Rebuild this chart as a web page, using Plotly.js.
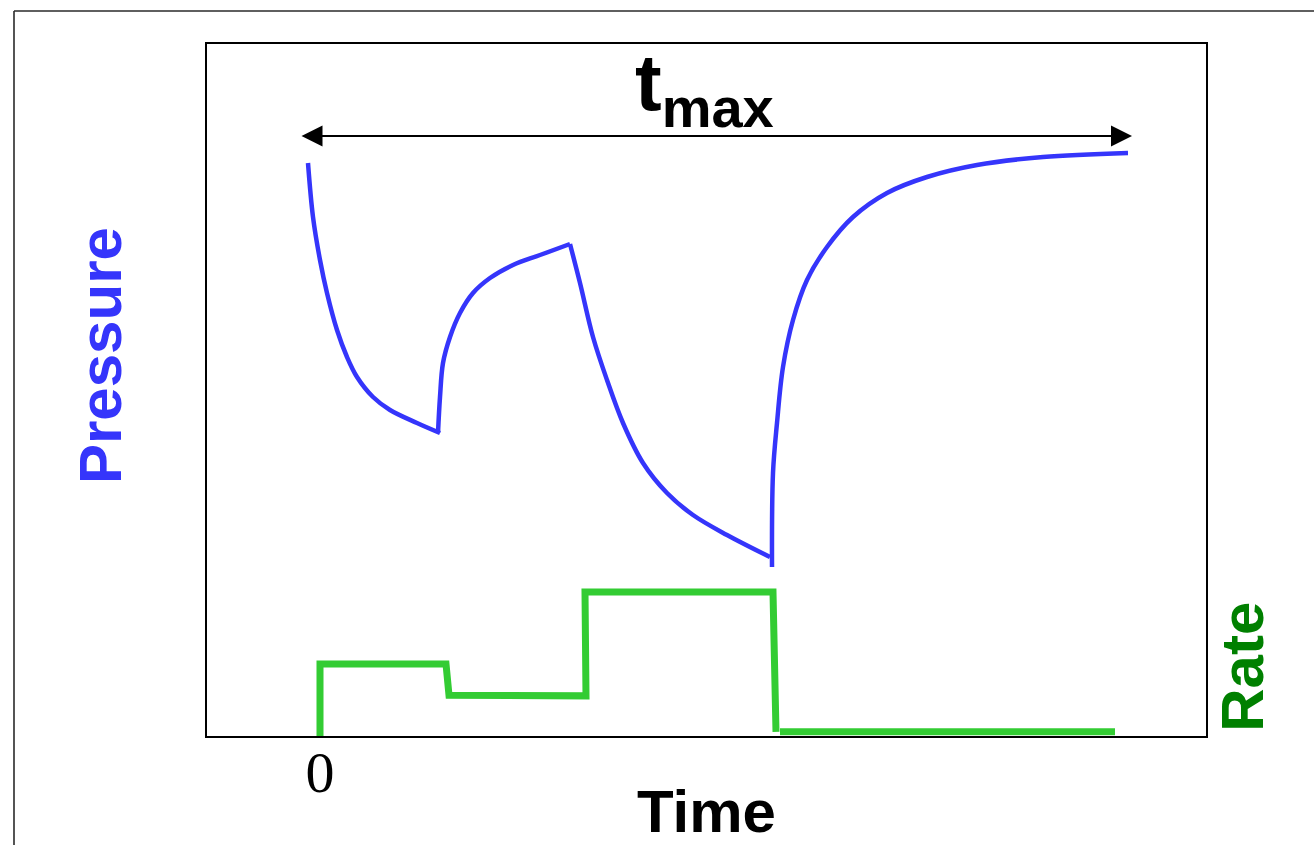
<!DOCTYPE html>
<html>
<head>
<meta charset="utf-8">
<script src="https://cdn.plot.ly/plotly-3.0.1.min.js"></script>
<style>
  html, body { margin: 0; padding: 0; background: #ffffff; }
  #chart { width: 1314px; height: 845px; }
</style>
</head>
<body>
<div id="chart"></div>
<script>
// Pressure response (time units, pressure units)
const pressureTime = [
  -0.12, -0.07, 0.00, 0.07, 0.17, 0.27, 0.37, 0.53, 0.70, 0.97, 1.20,
  1.18, 1.20, 1.23, 1.30, 1.40, 1.53, 1.70, 1.93, 2.20, 2.50,
  2.60, 2.73, 2.87, 3.03, 3.23, 3.47, 3.73, 4.07, 4.50,
  4.52, 4.53, 4.57, 4.63, 4.73, 4.87, 5.07, 5.33, 5.67, 6.07, 6.57, 7.23, 8.08
];
const pressureValue = [
  5.73, 5.19, 4.76, 4.43, 4.06, 3.79, 3.59, 3.39, 3.26, 3.13, 3.03,
  3.03, 3.39, 3.73, 3.99, 4.23, 4.43, 4.58, 4.71, 4.81, 4.92,
  4.53, 3.99, 3.56, 3.13, 2.73, 2.43, 2.21, 2.01, 1.79,
  1.69, 2.63, 3.13, 3.69, 4.16, 4.56, 4.89, 5.19, 5.43, 5.59, 5.71, 5.79, 5.83
];
// Each flow period: [first index, last index] in the pressure arrays
const pressurePeriods = [[0, 10], [11, 20], [20, 29], [30, 42]];

// Rate history (step schedule)
const rateTime  = [0, 0, 1.26, 1.29, 2.66, 2.65, 4.53, 4.56, null, 4.60, 7.95];
const rateValue = [0, 1.04, 1.04, 0.59, 0.58, 2.08, 2.08, 0.06, null, 0.06, 0.06];

// Labels
const xTickVals = [0];
const xTickText = ['0'];
const tmaxStart = -0.20;
const tmaxEnd = 8.12;
const tmaxLevel = 6.00;

const traces = pressurePeriods.map(([a, b]) => ({
  x: pressureTime.slice(a, b + 1), y: pressureValue.slice(a, b + 1),
  type: 'scatter', mode: 'lines',
  line: { color: '#3535fb', width: 4.5, shape: 'spline', smoothing: 1 },
  yaxis: 'y', hoverinfo: 'skip', name: 'Pressure'
}));
traces.push({
  x: rateTime, y: rateValue, type: 'scatter', mode: 'lines', connectgaps: false,
  line: { color: '#33cc33', width: 7 }, yaxis: 'y2', hoverinfo: 'skip', name: 'Rate'
});

const layout = {
  width: 1314, height: 845,
  margin: { l: 207, r: 108, t: 44, b: 109, pad: 0 },
  paper_bgcolor: '#ffffff', plot_bgcolor: '#ffffff',
  showlegend: false,
  xaxis: {
    range: [-1.13, 8.86], showgrid: false, zeroline: false,
    showline: true, linecolor: '#000000', linewidth: 2, mirror: true,
    ticks: '', tickvals: xTickVals, ticktext: xTickText,
    tickfont: { family: 'Liberation Serif, Times New Roman, serif', size: 58, color: '#000000' },
    ticklabelstandoff: -16,
    title: { text: '<b>Time</b>', standoff: 26,
      font: { family: 'Liberation Sans, Arial, sans-serif', size: 60, color: '#000000' } }
  },
  yaxis: {
    range: [0, 6.92], showgrid: false, zeroline: false,
    showline: true, linecolor: '#000000', linewidth: 2, mirror: true,
    ticks: '', showticklabels: false
  },
  yaxis2: {
    range: [0, 10], overlaying: 'y', side: 'right',
    showgrid: false, zeroline: false, showline: false,
    ticks: '', showticklabels: false
  },
  annotations: [
    {
      x: tmaxEnd, y: tmaxLevel, ax: tmaxStart, ay: tmaxLevel,
      xref: 'x', yref: 'y', axref: 'x', ayref: 'y',
      text: '', showarrow: true, arrowside: 'end+start',
      arrowhead: 2, startarrowhead: 2, arrowsize: 2.1, startarrowsize: 2.1,
      arrowwidth: 2, arrowcolor: '#000000', standoff: 0, startstandoff: 0
    },
    {
      x: 3.84, y: 6.48, xref: 'x', yref: 'y', showarrow: false,
      text: '<b>t<sub>max</sub></b>',
      font: { family: 'Liberation Sans, Arial, sans-serif', size: 80, color: '#000000' },
      xanchor: 'center', yanchor: 'middle'
    },
    {
      x: (100 - 207) / 999, y: (736 - 356) / 692, xref: 'paper', yref: 'paper', showarrow: false,
      text: '<b>Pressure</b>', textangle: -90,
      font: { family: 'Liberation Sans, Arial, sans-serif', size: 60, color: '#3535fb' },
      xanchor: 'center', yanchor: 'middle'
    },
    {
      x: 1.037, y: 0.10, xref: 'paper', yref: 'paper', showarrow: false,
      text: '<b>Rate</b>', textangle: -90,
      font: { family: 'Liberation Sans, Arial, sans-serif', size: 60, color: '#008000' },
      xanchor: 'center', yanchor: 'middle'
    }
  ],
  shapes: [
    { type: 'line', xref: 'paper', yref: 'paper',
      x0: (14 - 207) / 999, x1: 1.2, y0: 1 + (44 - 11) / 692, y1: 1 + (44 - 11) / 692,
      line: { color: '#2a2a2a', width: 1.6 } },
    { type: 'line', xref: 'paper', yref: 'paper',
      x0: (14 - 207) / 999, x1: (14 - 207) / 999, y0: 1 + (44 - 11) / 692, y1: -0.3,
      line: { color: '#2a2a2a', width: 1.6 } }
  ]
};

Plotly.newPlot('chart', traces, layout, { staticPlot: true, displayModeBar: false });
</script>
</body>
</html>
